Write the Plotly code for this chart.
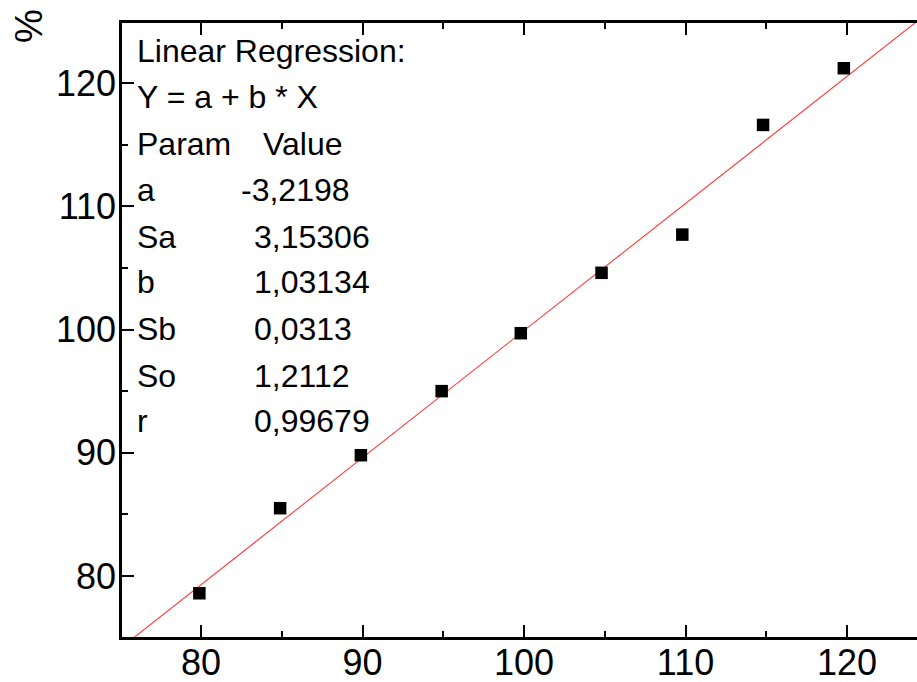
import plotly.graph_objects as go
import numpy as np

# Data
x_vals = [79.9, 84.9, 89.9, 94.9, 99.8, 104.8, 109.8, 114.8, 119.8]
y_vals = [78.6, 85.5, 89.8, 95.0, 99.7, 104.6, 107.7, 116.6, 121.2]

# Regression parameters shown in the chart
param_names = ["a", "Sa", "b", "Sb", "So", "r"]
param_values = ["-3,2198", "3,15306", "1,03134", "0,0313", "1,2112", "0,99679"]
a_coef = -3.2198
b_coef = 1.03134

x_tick_vals = [80, 90, 100, 110, 120]
y_tick_vals = [80, 90, 100, 110, 120]

FONT = "Liberation Sans, Arial, sans-serif"

fit_x = np.array([70.0, 130.0])
fit_y = a_coef + b_coef * fit_x

fig = go.Figure()
fig.add_trace(go.Scatter(x=fit_x, y=fit_y, mode="lines",
                         line=dict(color="#ff3a3a", width=1.1),
                         showlegend=False, hoverinfo="skip"))
fig.add_trace(go.Scatter(x=x_vals, y=y_vals, mode="markers",
                         marker=dict(symbol="square", size=12.5, color="black",
                                     line=dict(width=0)),
                         showlegend=False, cliponaxis=False))

W, H = 917, 682
ml, mr, mt, mb = 122, 0, 23, 45
pw = W - ml - mr
ph = H - mt - mb

def px_to_paper_x(px):
    return (px - ml) / pw

def px_to_paper_y(py):
    return (H - mb - py) / ph

annots = []
header_rows = [("Linear Regression:", 135, 51), ("Y = a + b * X", 135, 97)]
for txt, px, py in header_rows:
    annots.append(dict(text=txt, x=px_to_paper_x(px), y=px_to_paper_y(py)))
annots.append(dict(text="Param", x=px_to_paper_x(135), y=px_to_paper_y(144)))
annots.append(dict(text="Value", x=px_to_paper_x(261), y=px_to_paper_y(144)))
row_y = [190, 237, 282, 329, 376, 421]
for name, val, py in zip(param_names, param_values, row_y):
    annots.append(dict(text=name, x=px_to_paper_x(135), y=px_to_paper_y(py)))
    vx = 239 if val.startswith("-") else 252
    annots.append(dict(text=val, x=px_to_paper_x(vx), y=px_to_paper_y(py)))

annotations = []
for a in annots:
    annotations.append(dict(text=a["text"], x=a["x"], y=a["y"], xref="paper", yref="paper",
                            xanchor="left", yanchor="middle", showarrow=False,
                            font=dict(family=FONT, size=32, color="black")))
annotations.append(dict(text="%", textangle=-90, x=px_to_paper_x(29), y=px_to_paper_y(26),
                        xref="paper", yref="paper", xanchor="center", yanchor="middle",
                        showarrow=False, font=dict(family=FONT, size=38, color="black")))

axis_common = dict(showgrid=False, zeroline=False, showline=True, linecolor="black",
                   linewidth=2.5, ticks="inside", ticklen=12, tickwidth=2, tickcolor="black",
                   automargin=False,
                   tickfont=dict(family=FONT, size=36, color="black"))

fig.update_layout(
    width=W, height=H,
    margin=dict(l=ml, r=mr, t=mt, b=mb),
    paper_bgcolor="white", plot_bgcolor="white",
    xaxis=dict(range=[75.11, 124.33], tickvals=x_tick_vals, mirror="ticks",
               ticklabelstandoff=-8,
               minor=dict(ticks="inside", ticklen=6, tickwidth=2, tickcolor="black", dtick=5, tick0=75),
               **axis_common),
    yaxis=dict(range=[75.05, 124.87], tickvals=y_tick_vals, mirror=False,
               ticklabelstandoff=-4,
               minor=dict(ticks="inside", ticklen=6, tickwidth=2, tickcolor="black", dtick=5, tick0=75),
               **axis_common),
    annotations=annotations,
)

fig.write_html("out.html")
